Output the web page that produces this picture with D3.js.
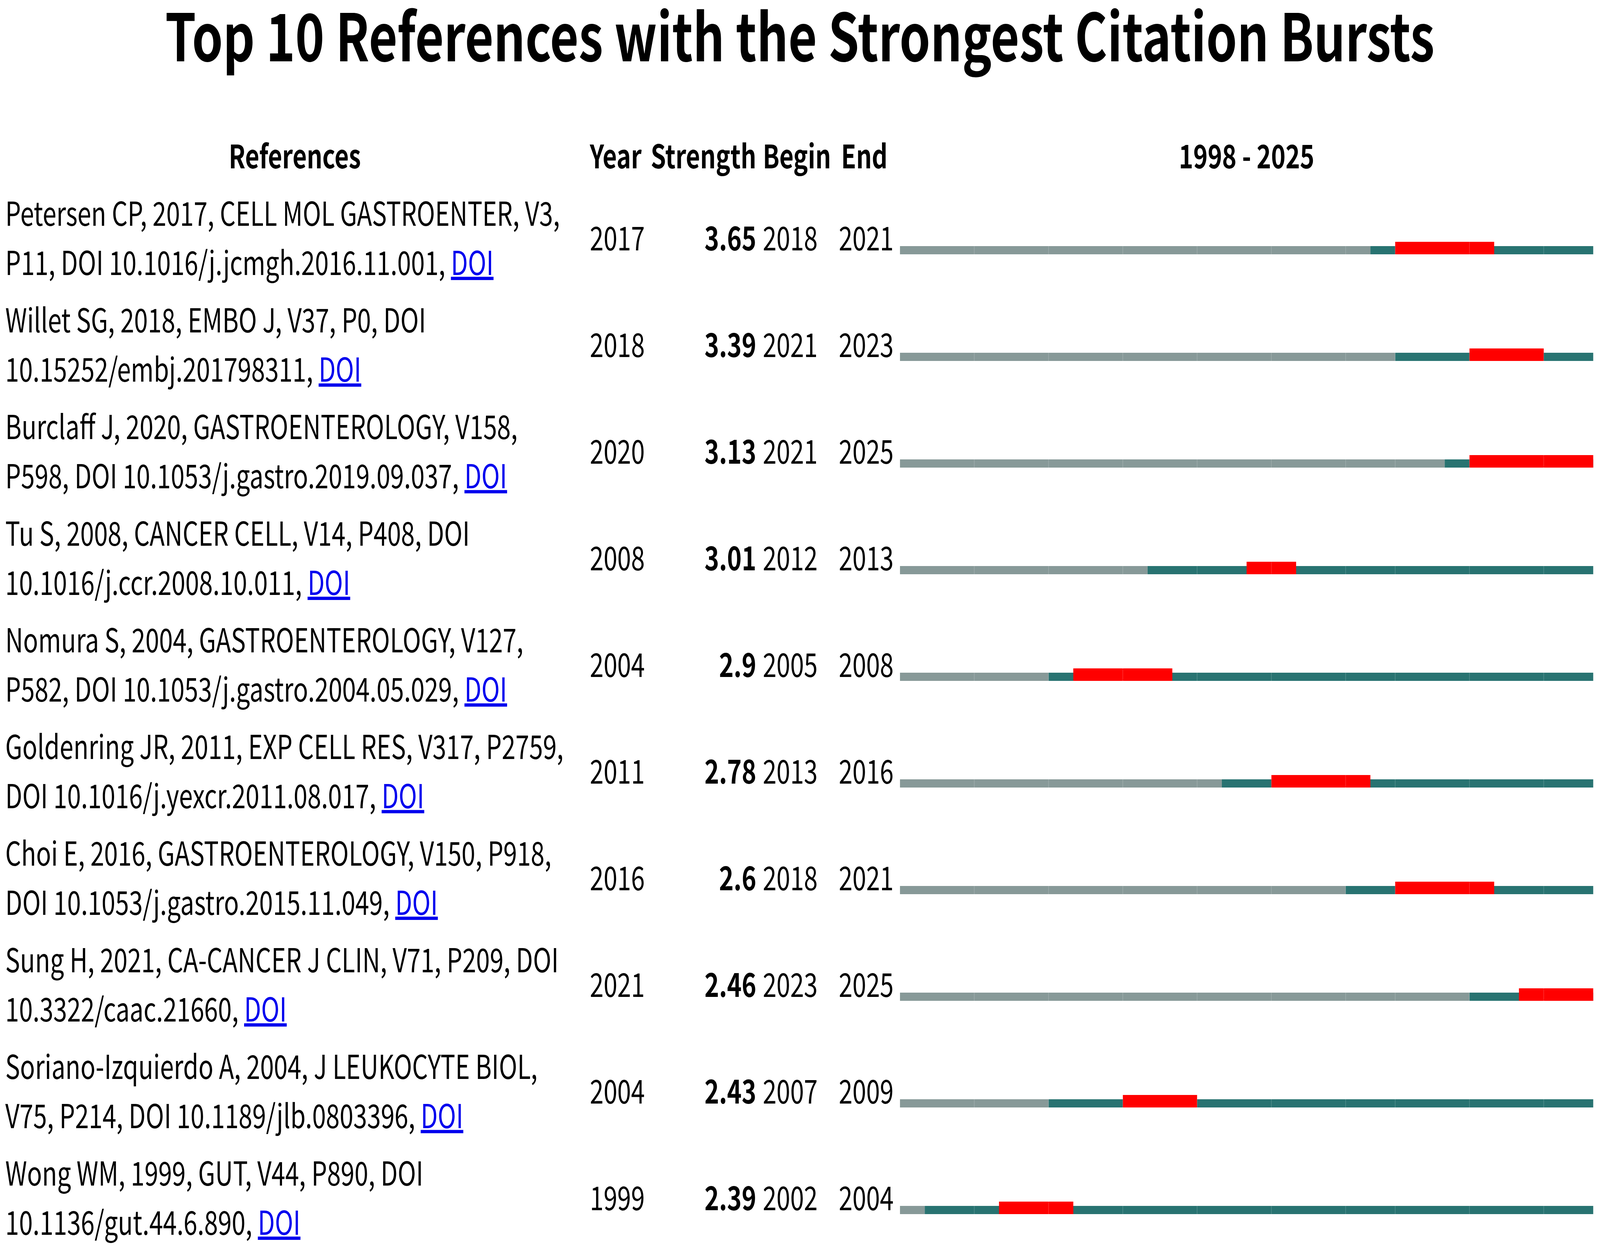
<!DOCTYPE html>
<html>
<head>
    <meta charset="utf-8">
    <title>Citation Bursts</title>
    <script src="https://d3js.org/d3.v7.min.js"></script>
    <style>
        html, body { margin: 0; padding: 0; background: #fff; overflow: hidden; }
        svg { display: block; width: 100vw; height: 100vh; }
        text { font-family: "Noto Sans CJK SC", "Noto Sans", sans-serif; }
    </style>
</head>
<body>
<script>
    // reference text, already broken into the two lines shown in the table
    var refLine1 = [
        "Petersen CP, 2017, CELL MOL GASTROENTER, V3,",
        "Willet SG, 2018, EMBO J, V37, P0, DOI",
        "Burclaff J, 2020, GASTROENTEROLOGY, V158,",
        "Tu S, 2008, CANCER CELL, V14, P408, DOI",
        "Nomura S, 2004, GASTROENTEROLOGY, V127,",
        "Goldenring JR, 2011, EXP CELL RES, V317, P2759,",
        "Choi E, 2016, GASTROENTEROLOGY, V150, P918,",
        "Sung H, 2021, CA-CANCER J CLIN, V71, P209, DOI",
        "Soriano-Izquierdo A, 2004, J LEUKOCYTE BIOL,",
        "Wong WM, 1999, GUT, V44, P890, DOI"
    ];
    var refLine2 = [
        "P11, DOI 10.1016/j.jcmgh.2016.11.001, ",
        "10.15252/embj.201798311, ",
        "P598, DOI 10.1053/j.gastro.2019.09.037, ",
        "10.1016/j.ccr.2008.10.011, ",
        "P582, DOI 10.1053/j.gastro.2004.05.029, ",
        "DOI 10.1016/j.yexcr.2011.08.017, ",
        "DOI 10.1053/j.gastro.2015.11.049, ",
        "10.3322/caac.21660, ",
        "V75, P214, DOI 10.1189/jlb.0803396, ",
        "10.1136/gut.44.6.890, "
    ];
    var pubYear  = [2017, 2018, 2020, 2008, 2004, 2011, 2016, 2021, 2004, 1999];
    var strength = [3.65, 3.39, 3.13, 3.01, 2.9, 2.78, 2.6, 2.46, 2.43, 2.39];
    var begin    = [2018, 2021, 2021, 2012, 2005, 2013, 2018, 2023, 2007, 2002];
    var end      = [2021, 2023, 2025, 2013, 2008, 2016, 2021, 2025, 2009, 2004];
    var firstYear = 1998, lastYear = 2025;
    // faint joins visible inside the bars
    var joinYears = [2001, 2004, 2007, 2010, 2013, 2016, 2018, 2021, 2024];

    // drawn in the reference's 5433x3205 frame, stretched to whatever window we get
    var w = 5433, h = 3205;
    var fs = 84;
    var rowH = 273;
    var row0 = 578;     // baseline of first text line in row 0
    var lineH = 126;

    var svg = d3.select("body").append("svg")
        .attr("viewBox", "0 0 " + w + " " + h)
        .attr("preserveAspectRatio", "none");

    var x = d3.scaleLinear()
        .domain([firstYear, lastYear + 1])
        .range([3056, 5410]);

    var rows = d3.range(refLine1.length);
    var y = function(i) { return row0 + i * rowH; };

    // title
    svg.append("text")
        .attr("x", 2716).attr("y", 157)
        .attr("text-anchor", "middle")
        .attr("font-size", 168).attr("font-weight", "bold")
        .text("Top 10 References with the Strongest Citation Bursts");

    // column headers
    var hy = 431;
    var head = svg.append("g").attr("font-size", 83).attr("font-weight", "bold");
    head.append("text").attr("x", 1001).attr("y", hy).attr("text-anchor", "middle").text("References");
    head.append("text").attr("x", 2003).attr("y", hy).text("Year");
    head.append("text").attr("x", 2568).attr("y", hy).attr("text-anchor", "end").text("Strength");
    head.append("text").attr("x", 2590).attr("y", hy).text("Begin");
    head.append("text").attr("x", 2856).attr("y", hy).text("End");
    head.append("text").attr("x", x((firstYear + lastYear + 1) / 2)).attr("y", hy)
        .attr("text-anchor", "middle").text(firstYear + " - " + lastYear);

    var g = svg.selectAll("g.row")
        .data(rows)
        .enter()
        .append("g")
        .attr("class", "row")
        .attr("font-size", fs);

    g.append("text")
        .attr("x", 18).attr("y", function(i) { return y(i); })
        .text(function(i) { return refLine1[i]; });

    var l2 = g.append("text")
        .attr("x", 18).attr("y", function(i) { return y(i) + lineH; })
        .attr("xml:space", "preserve")
        .style("white-space", "pre");
    l2.append("tspan").text(function(i) { return refLine2[i]; });
    l2.append("tspan")
        .attr("fill", "#0000ee")
        .style("text-decoration", "underline")
        .text("DOI");

    var mid = function(i) { return y(i) + 63; };
    g.append("text").attr("x", 2003).attr("y", mid)
        .text(function(i) { return pubYear[i]; });
    g.append("text").attr("x", 2568).attr("y", mid)
        .attr("text-anchor", "end").attr("font-weight", "bold")
        .text(function(i) { return strength[i]; });
    g.append("text").attr("x", 2590).attr("y", mid)
        .text(function(i) { return begin[i]; });
    g.append("text").attr("x", 2848).attr("y", mid)
        .text(function(i) { return end[i]; });

    // bars: grey before publication, teal after, red during the burst
    var barBottom = function(i) { return y(i) + 73; };
    g.append("rect")
        .attr("x", x(firstYear))
        .attr("y", function(i) { return barBottom(i) - 21; })
        .attr("width", function(i) { return x(pubYear[i]) - x(firstYear); })
        .attr("height", 21)
        .attr("fill", "#879998");
    g.append("rect")
        .attr("x", function(i) { return x(pubYear[i]); })
        .attr("y", function(i) { return barBottom(i) - 21; })
        .attr("width", function(i) { return x(lastYear + 1) - x(pubYear[i]); })
        .attr("height", 21)
        .attr("fill", "#287371");
    g.append("rect")
        .attr("x", function(i) { return x(begin[i]); })
        .attr("y", function(i) { return barBottom(i) - 32; })
        .attr("width", function(i) { return x(end[i] + 1) - x(begin[i]); })
        .attr("height", 32)
        .attr("fill", "#ff0000");

    g.each(function(i) {
        d3.select(this).selectAll("line.join")
            .data(joinYears)
            .enter()
            .append("line")
            .attr("class", "join")
            .attr("x1", function(d) { return x(d); })
            .attr("x2", function(d) { return x(d); })
            .attr("y1", function(d) { return barBottom(i) - (d >= begin[i] && d <= end[i] ? 32 : 21); })
            .attr("y2", barBottom(i))
            .attr("stroke", "#fff")
            .attr("stroke-opacity", 0.25)
            .attr("stroke-width", 1.5);
    });
</script>
</body>
</html>
